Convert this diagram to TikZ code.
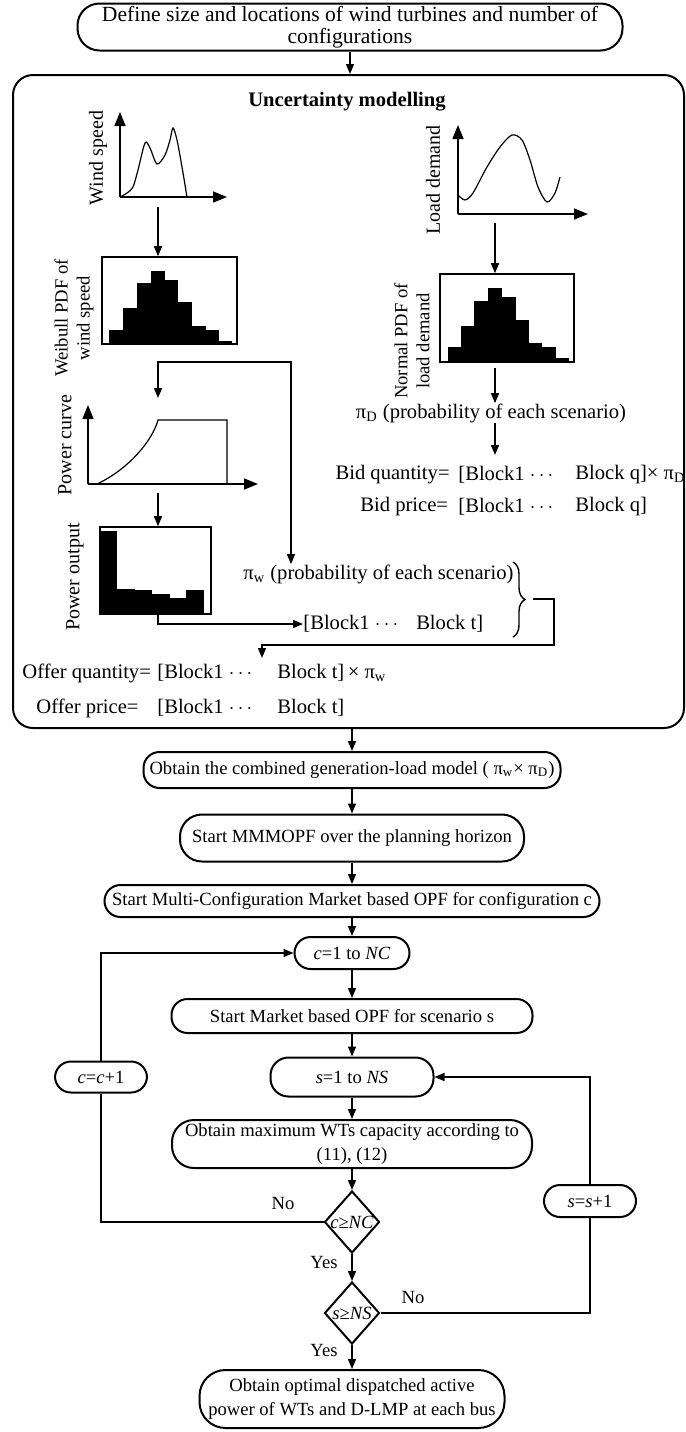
\documentclass[tikz,border=0pt]{standalone}
\usepackage{fontspec}
\setmainfont{Liberation Serif}
\usetikzlibrary{arrows.meta,shapes.geometric,decorations.pathreplacing}

\tikzset{
  flowbox/.style={draw, line width=1pt, rounded corners=8pt, align=center, inner sep=0pt,
    font=\fontsize{9.3}{12}\selectfont},
  testbox/.style={draw, line width=1pt, diamond, inner sep=0pt, minimum width=27.5pt, minimum height=31pt},
  conn/.style={line width=0.7pt},
  flow/.style={conn, -{Triangle[length=5pt,width=4pt]}},
  flowboth/.style={conn, {Triangle[length=5pt,width=4pt]}-{Triangle[length=5pt,width=4pt]}},
  plotaxis/.style={line width=0.8pt, -{Triangle[length=7pt,width=5.5pt]}},
  pdfbox/.style={draw, line width=0.8pt, inner sep=0pt},
  lbl/.style={rotate=90, align=center, inner sep=0pt, font=\fontsize{10}{11}\selectfont},
  txt/.style={inner sep=0pt, font=\fontsize{10.3}{12}\selectfont},
  small/.style={inner sep=0pt, font=\fontsize{9.3}{11}\selectfont},
}

\begin{document}
\begin{tikzpicture}[x=0.5pt, y=-0.5pt]
\useasboundingbox (0,0) rectangle (686,1432);

\node[flowbox, rounded corners=11pt, minimum width=272.5pt, minimum height=23.5pt,
  font=\fontsize{10.8}{11}\selectfont] (define) at (350,27)
  {Define size and locations of wind turbines and number of\\configurations};
\node[draw, line width=1pt, rounded corners=10pt, minimum width=335.5pt, minimum height=326.5pt]
  (uncert) at (348.5,401.5) {};
\draw[flow] (define.south) -- (define.south |- uncert.north);
\node[txt, font=\fontsize{10.3}{12}\selectfont\bfseries] (title) at (347,102) {Uncertainty modelling};

% wind speed side
\coordinate (wo) at (120,197);
\draw[plotaxis] (wo) -- (120,112);
\draw[plotaxis] (wo) -- (227,197);
\draw[line width=0.6pt] plot[smooth] coordinates {(120,197) (127,193) (133,187) (138,170) (145,143)
  (150,148) (157,164) (165,155) (170,140) (173,128) (177,140) (182,167) (187,197)};
\node[lbl] (wslbl) at (98,158) {Wind speed};

\coordinate (wsout) at (158,207);
\node[pdfbox, minimum width=67.5pt, minimum height=43.5pt] (wpdf) at (169.5,300.5) {};
\draw[flow] (wsout) -- (wsout |- wpdf.north);
\foreach \xa/\xb/\yt in {109/123/330, 123/137/308, 137/151/283, 151/165/271, 165/178/280,
  178/192/302, 192/206/326, 206/219/330, 219/232/341}
  \fill (\xa,344) rectangle (\xb,\yt);
\node[lbl, font=\fontsize{9.3}{11}\selectfont] (wpdflbl) at (74,318) {Weibull PDF of\\wind speed};

\coordinate (po) at (88,484);
\draw[plotaxis] (po) -- (88,405);
\draw[plotaxis] (po) -- (258,484);
\draw[line width=0.6pt] (97,484) .. controls (127,470) and (152,442) .. (158,420) -- (227,420) -- (227,484);
\node[lbl] (pclbl) at (65,445) {Power curve};

\node[txt, anchor=west] (piw) at (243,574) {π\textsubscript{w} (probability of each scenario)};
\coordinate (pctop) at (158,398);
\coordinate (brl) at (158,362);
\coordinate (brr) at (291,362);
\draw[flowboth] (pctop) -- (brl) -- (brr) -- (brr |- piw.north);

\coordinate (pcout) at (158,493);
\node[pdfbox, minimum width=55.5pt, minimum height=43.5pt] (pout) at (155.5,570.5) {};
\draw[flow] (pcout) -- (pcout |- pout.north);
\foreach \xa/\xb/\yt in {100/117/531, 117/135/589, 135/152/590, 152/170/594, 170/186/598, 186/204/590}
  \fill (\xa,614) rectangle (\xb,\yt);
\node[lbl] (polbl) at (75,577) {Power output};

\node[txt, anchor=west] (blkt) at (303,624) {[Block1 $\cdots$\hspace{9pt}Block t]};
\draw[flow] (pout.south -| pcout) |- (blkt.west);

\draw[conn, decorate, decoration={brace, amplitude=6pt}] (513,562) -- (513,637);
\coordinate (bracetip) at (533,599);
\coordinate (offin) at (262,658);
\draw[flow] (bracetip) -- (554,599) -- (554,645) -| (offin);

\node[txt, anchor=west] (offq) at (22,673) {Offer quantity=};
\node[txt, anchor=west] (offqa) at (157,673) {[Block1 $\cdots$};
\node[txt, anchor=west] (offqb) at (277,673) {Block t]\,× π\textsubscript{w}};
\node[txt, anchor=west] (offp) at (36,708) {Offer price=};
\node[txt, anchor=west] (offpa) at (157,708) {[Block1 $\cdots$};
\node[txt, anchor=west] (offpb) at (277,708) {Block t]};

% load demand side
\coordinate (lo) at (458,214);
\draw[plotaxis] (lo) -- (458,125);
\draw[plotaxis] (lo) -- (588,214);
\draw[line width=0.6pt] plot[smooth] coordinates {(458,195) (465,200) (473,193) (487,167) (500,147)
  (512,135) (522,140) (530,160) (538,187) (547,202) (555,193) (560,177)};
\node[lbl] (ldlbl) at (433,180) {Load demand};

\coordinate (ldout) at (495,223);
\node[pdfbox, minimum width=67pt, minimum height=44pt] (npdf) at (507,318) {};
\draw[flow] (ldout) -- (ldout |- npdf.north);
\foreach \xa/\xb/\yt in {448/461/347, 461/474/326, 474/488/301, 488/502/288, 502/516/297,
  516/529/320, 529/542/343, 542/556/347, 556/569/358}
  \fill (\xa,362) rectangle (\xb,\yt);
\node[lbl, font=\fontsize{9.3}{11}\selectfont] (npdflbl) at (412,341) {Normal PDF of\\load demand};

\node[txt] (pid) at (491,413) {π\textsubscript{D} (probability of each scenario)};
\coordinate (npdfout) at (495,368);
\draw[flow] (npdfout) -- (npdfout |- pid.north);
\coordinate (bidin) at (495,455);
\draw[flow] (pid.south -| bidin) -- (bidin);

\node[txt, anchor=east] (bidq) at (450,475) {Bid quantity=};
\node[txt, anchor=west] (bidqa) at (458,475) {[Block1 $\cdots$};
\node[txt, anchor=west] (bidqb) at (575,475) {Block q]× π\textsubscript{D}};
\node[txt, anchor=west] (bidp) at (360,507) {Bid price=};
\node[txt, anchor=west] (bidpa) at (458,507) {[Block1 $\cdots$};
\node[txt, anchor=west] (bidpb) at (575,507) {Block q]};

% market based OPF loops
\node[flowbox, minimum width=208.5pt, minimum height=18pt] (comb) at (352,770)
  {Obtain the combined generation-load model ( π\textsubscript{w}× π\textsubscript{D})};
\node[flowbox, rounded corners=11pt, minimum width=172pt, minimum height=23.5pt] (mmm) at (352,838)
  {Start MMMOPF over the planning horizon};
\node[flowbox, minimum width=247.5pt, minimum height=16pt] (multi) at (352,901)
  {Start Multi-Configuration Market based OPF for configuration c};
\node[flowbox, minimum width=57.5pt, minimum height=16pt] (cloop) at (352,953)
  {\textit{c}=1 to \textit{NC}};
\node[flowbox, minimum width=180.5pt, minimum height=17pt] (mkt) at (352,1016)
  {Start Market based OPF for scenario s};
\node[flowbox, rounded corners=9pt, minimum width=81.5pt, minimum height=19.5pt] (sloop) at (352,1077)
  {\textit{s}=1 to \textit{NS}};
\node[flowbox, rounded corners=11pt, minimum width=180pt, minimum height=24pt] (maxwt) at (352,1144)
  {Obtain maximum WTs capacity according to\\(11), (12)};
\node[testbox, label={[small]center:\textit{c}≥\textit{NC}}] (dc) at (352,1222) {};
\node[testbox, label={[small]center:\textit{s}≥\textit{NS}}] (ds) at (352,1313) {};
\node[flowbox, rounded corners=13pt, minimum width=152.5pt, minimum height=29pt] (final) at (352,1399)
  {Obtain optimal dispatched active\\power of WTs and D-LMP at each bus};
\node[flowbox, minimum width=46pt, minimum height=15.5pt] (cinc) at (101,1077) {\textit{c}=\textit{c}+1};
\node[flowbox, minimum width=46pt, minimum height=16pt] (sinc) at (590,1201) {\textit{s}=\textit{s}+1};

\node[small] (noc) at (283,1203) {No};
\node[small] (yesc) at (324,1262) {Yes};
\node[small] (nos) at (413,1297) {No};
\node[small] (yess) at (324,1350) {Yes};

\draw[flow] (comb.north |- uncert.south) -- (comb.north);
\draw[flow] (comb) -- (mmm);
\draw[flow] (mmm) -- (multi);
\draw[flow] (multi) -- (cloop);
\draw[flow] (cloop) -- (mkt);
\draw[flow] (mkt) -- (sloop);
\draw[flow] (sloop) -- (maxwt);
\draw[flow] (maxwt) -- (dc);
\draw[flow] (dc) -- (ds);
\draw[flow] (ds) -- (final);
\draw[conn] (dc.west) -| (cinc.south);
\draw[flow] (cinc.north) |- (cloop.west);
\draw[conn] (ds.east) -| (sinc.south);
\draw[flow] (sinc.north) |- (sloop.east);
\end{tikzpicture}
\end{document}
